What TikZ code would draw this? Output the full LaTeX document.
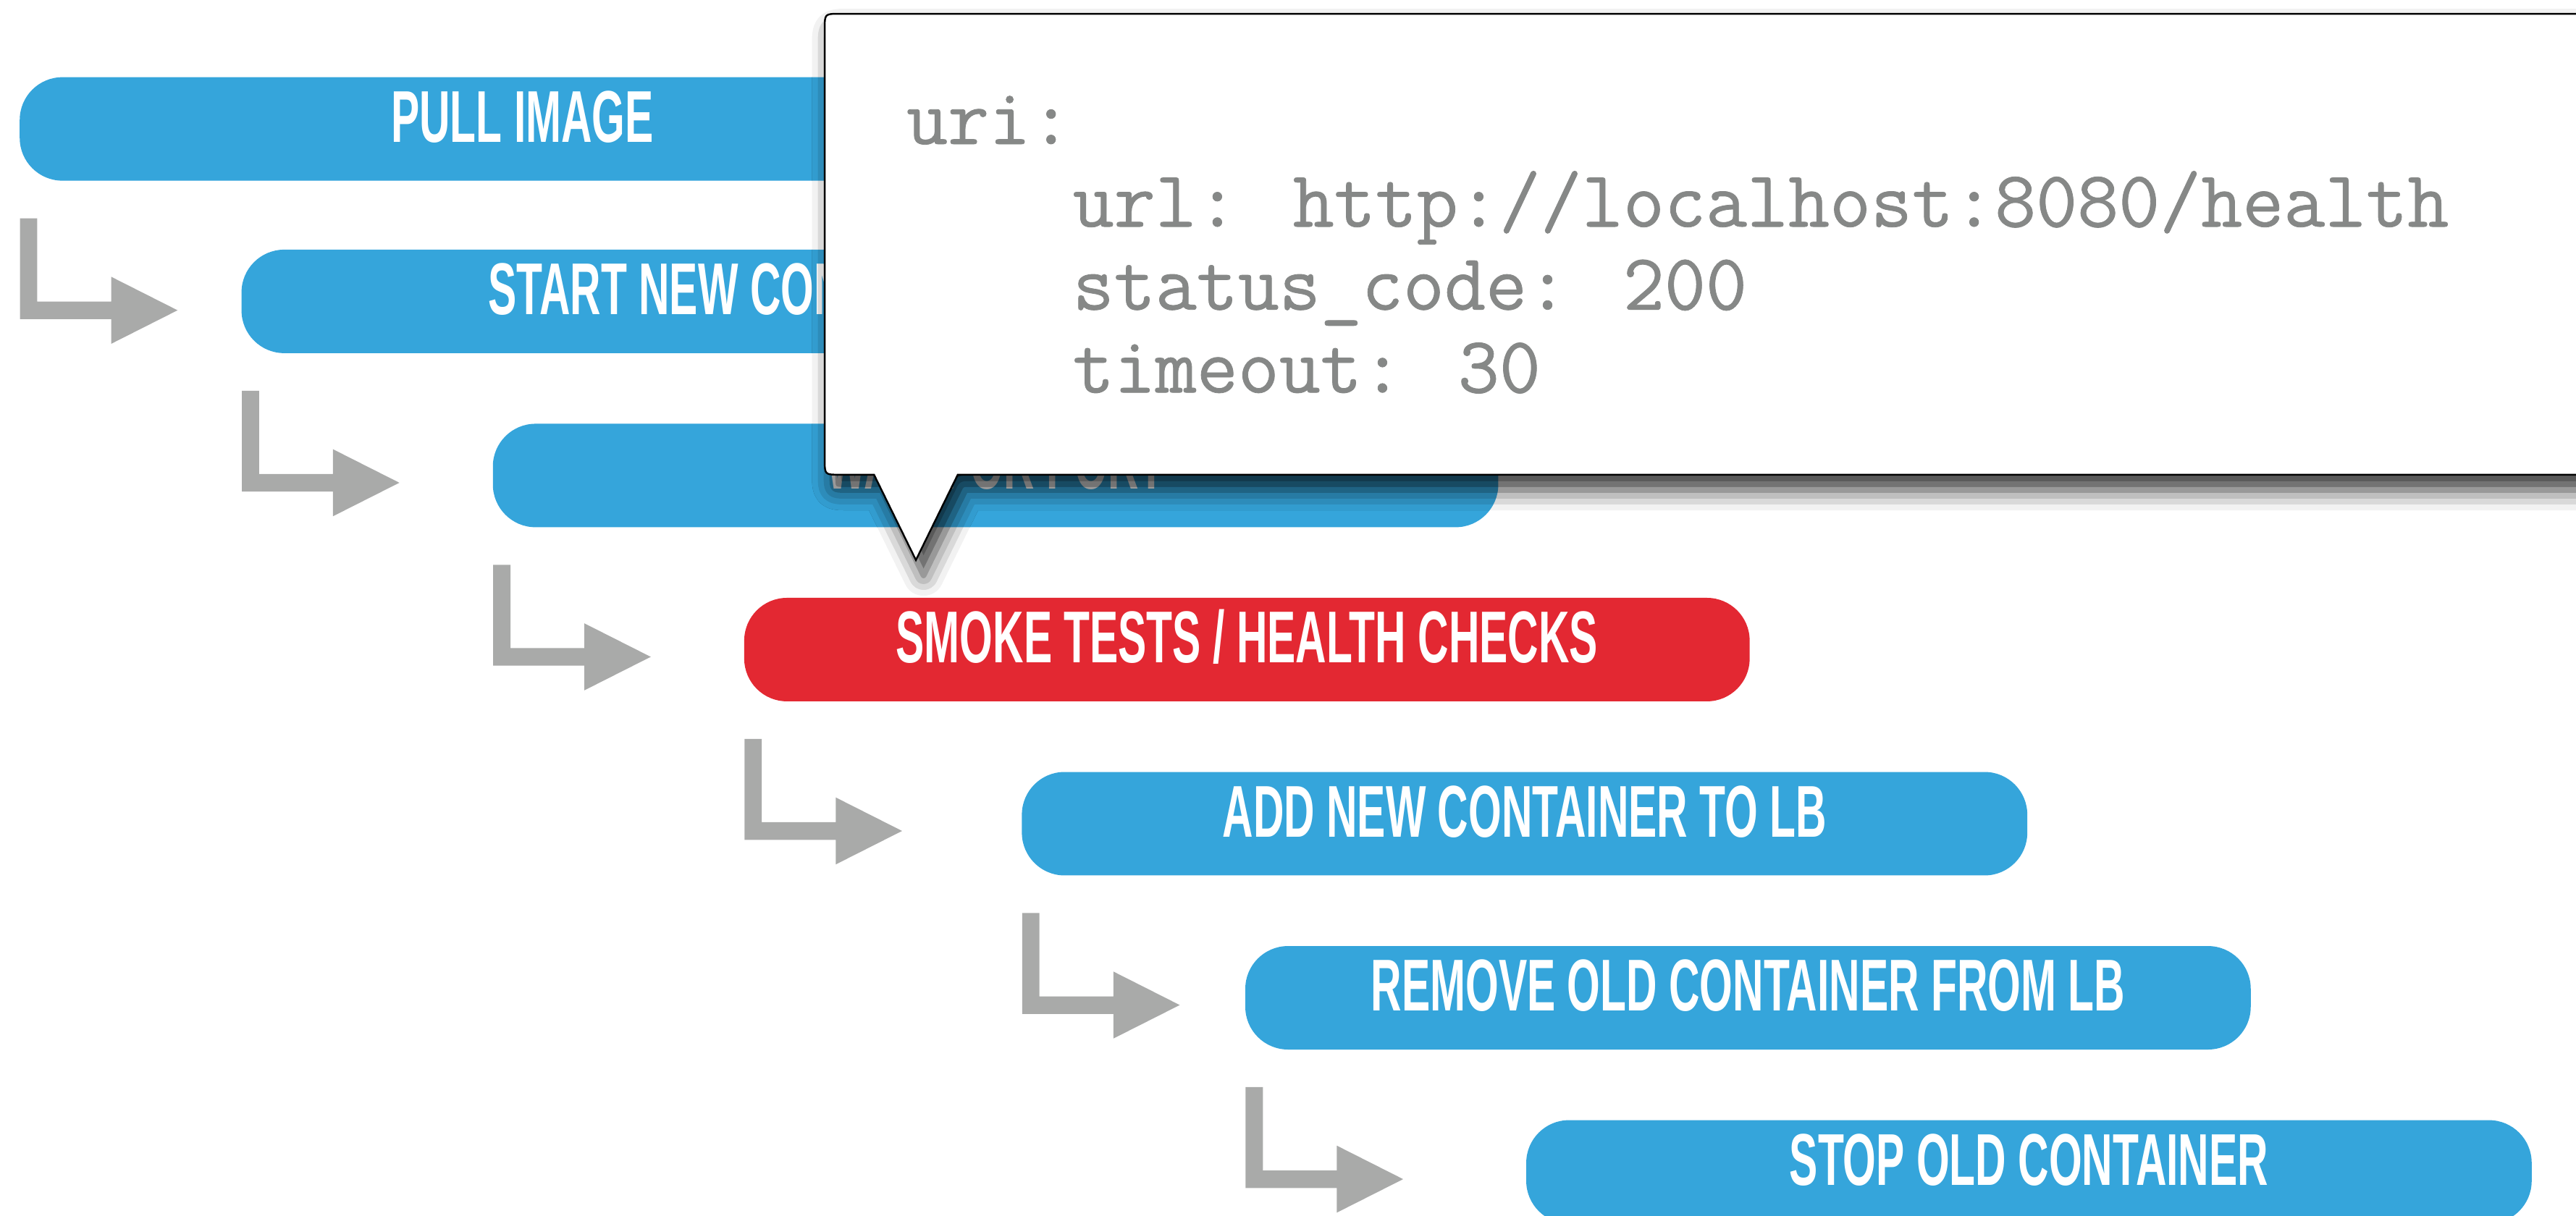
\documentclass[tikz,border=0pt]{standalone}
\usepackage{fontspec}
\usetikzlibrary{shadows.blur}
\newfontfamily\boxfont[FakeStretch=0.58]{Liberation Sans}
\newfontfamily\codefont[FakeBold=0.7]{Latin Modern Mono}
\definecolor{stepblue}{HTML}{35A5DB}
\definecolor{stepred}{HTML}{E32832}
\definecolor{arrowgrey}{HTML}{A9AAA9}
\definecolor{codegrey}{HTML}{868887}
\newcommand\turnarrowfrom[1]{%
  \fill[turnarrow, shift={(#1.south west)}]
    (0.5,22.6) -- (11,22.6) -- (11,73.3) -- (56,73.3) -- (56,58.2)
    -- (96.4,78.6) -- (56,99) -- (56,84) -- (0.5,84) -- cycle;}
\begin{document}
\begin{tikzpicture}[x=0.02269cm, y=-0.02269cm,
  stepbox/.style={fill=stepblue, rounded corners=0.59cm, minimum width=13.886cm,
    minimum height=1.4295cm, inner sep=0pt, text=white,
    font=\boxfont\bfseries\fontsize{28.85pt}{30pt}\selectfont,
    text height=0.726cm, text depth=0.363cm},
  redbox/.style={stepbox, fill=stepred},
  turnarrow/.style={fill=arrowgrey},
  codeline/.style={anchor=base west, inner sep=0pt, text=codegrey,
    font=\codefont\fontsize{31.5pt}{36pt}\selectfont},
  callout/.style={fill=white, draw=black, line width=0.7pt, line join=miter,
    blur shadow={shadow xshift=3pt, shadow yshift=-6pt, shadow blur radius=8pt, shadow opacity=80}}
]
\useasboundingbox (0,0) rectangle (1568,740);
\clip (0,0) rectangle (1568,740);

\node[stepbox] (b1) at (318,78.5)   {PULL IMAGE};
\node[stepbox] (b2) at (453,183.5)  {START NEW CONTAINER};
\node[stepbox] (b3) at (606,289.5)  {WAIT FOR PORT};
\node[redbox]  (b4) at (759,395.5)  {SMOKE TESTS / HEALTH CHECKS};
\node[stepbox] (b5) at (928,501.5)  {ADD NEW CONTAINER TO LB};
\node[stepbox] (b6) at (1064,607.5) {REMOVE OLD CONTAINER FROM LB};
\node[stepbox] (b7) at (1235,713.5) {STOP OLD CONTAINER};

\turnarrowfrom{b1}
\turnarrowfrom{b2}
\turnarrowfrom{b3}
\turnarrowfrom{b4}
\turnarrowfrom{b5}
\turnarrowfrom{b6}

\path[callout] (557.5,341) -- (583,289) -- (1620,289) -- (1620,8.4) -- (511,8.4)
  .. controls (502,8.4) .. (502,17.4) -- (502,280)
  .. controls (502,289) .. (511,289) -- (532,289) -- cycle;

\node[codeline] (c1) at (551.5,87.7) {uri:};
\node[codeline] (c2) at (652.7,138)  {url: http://localhost:8080/health};
\node[codeline] (c3) at (652.7,188.5) {status\_code: 200};
\node[codeline] (c4) at (652.7,239)  {timeout: 30};
\end{tikzpicture}
\end{document}
